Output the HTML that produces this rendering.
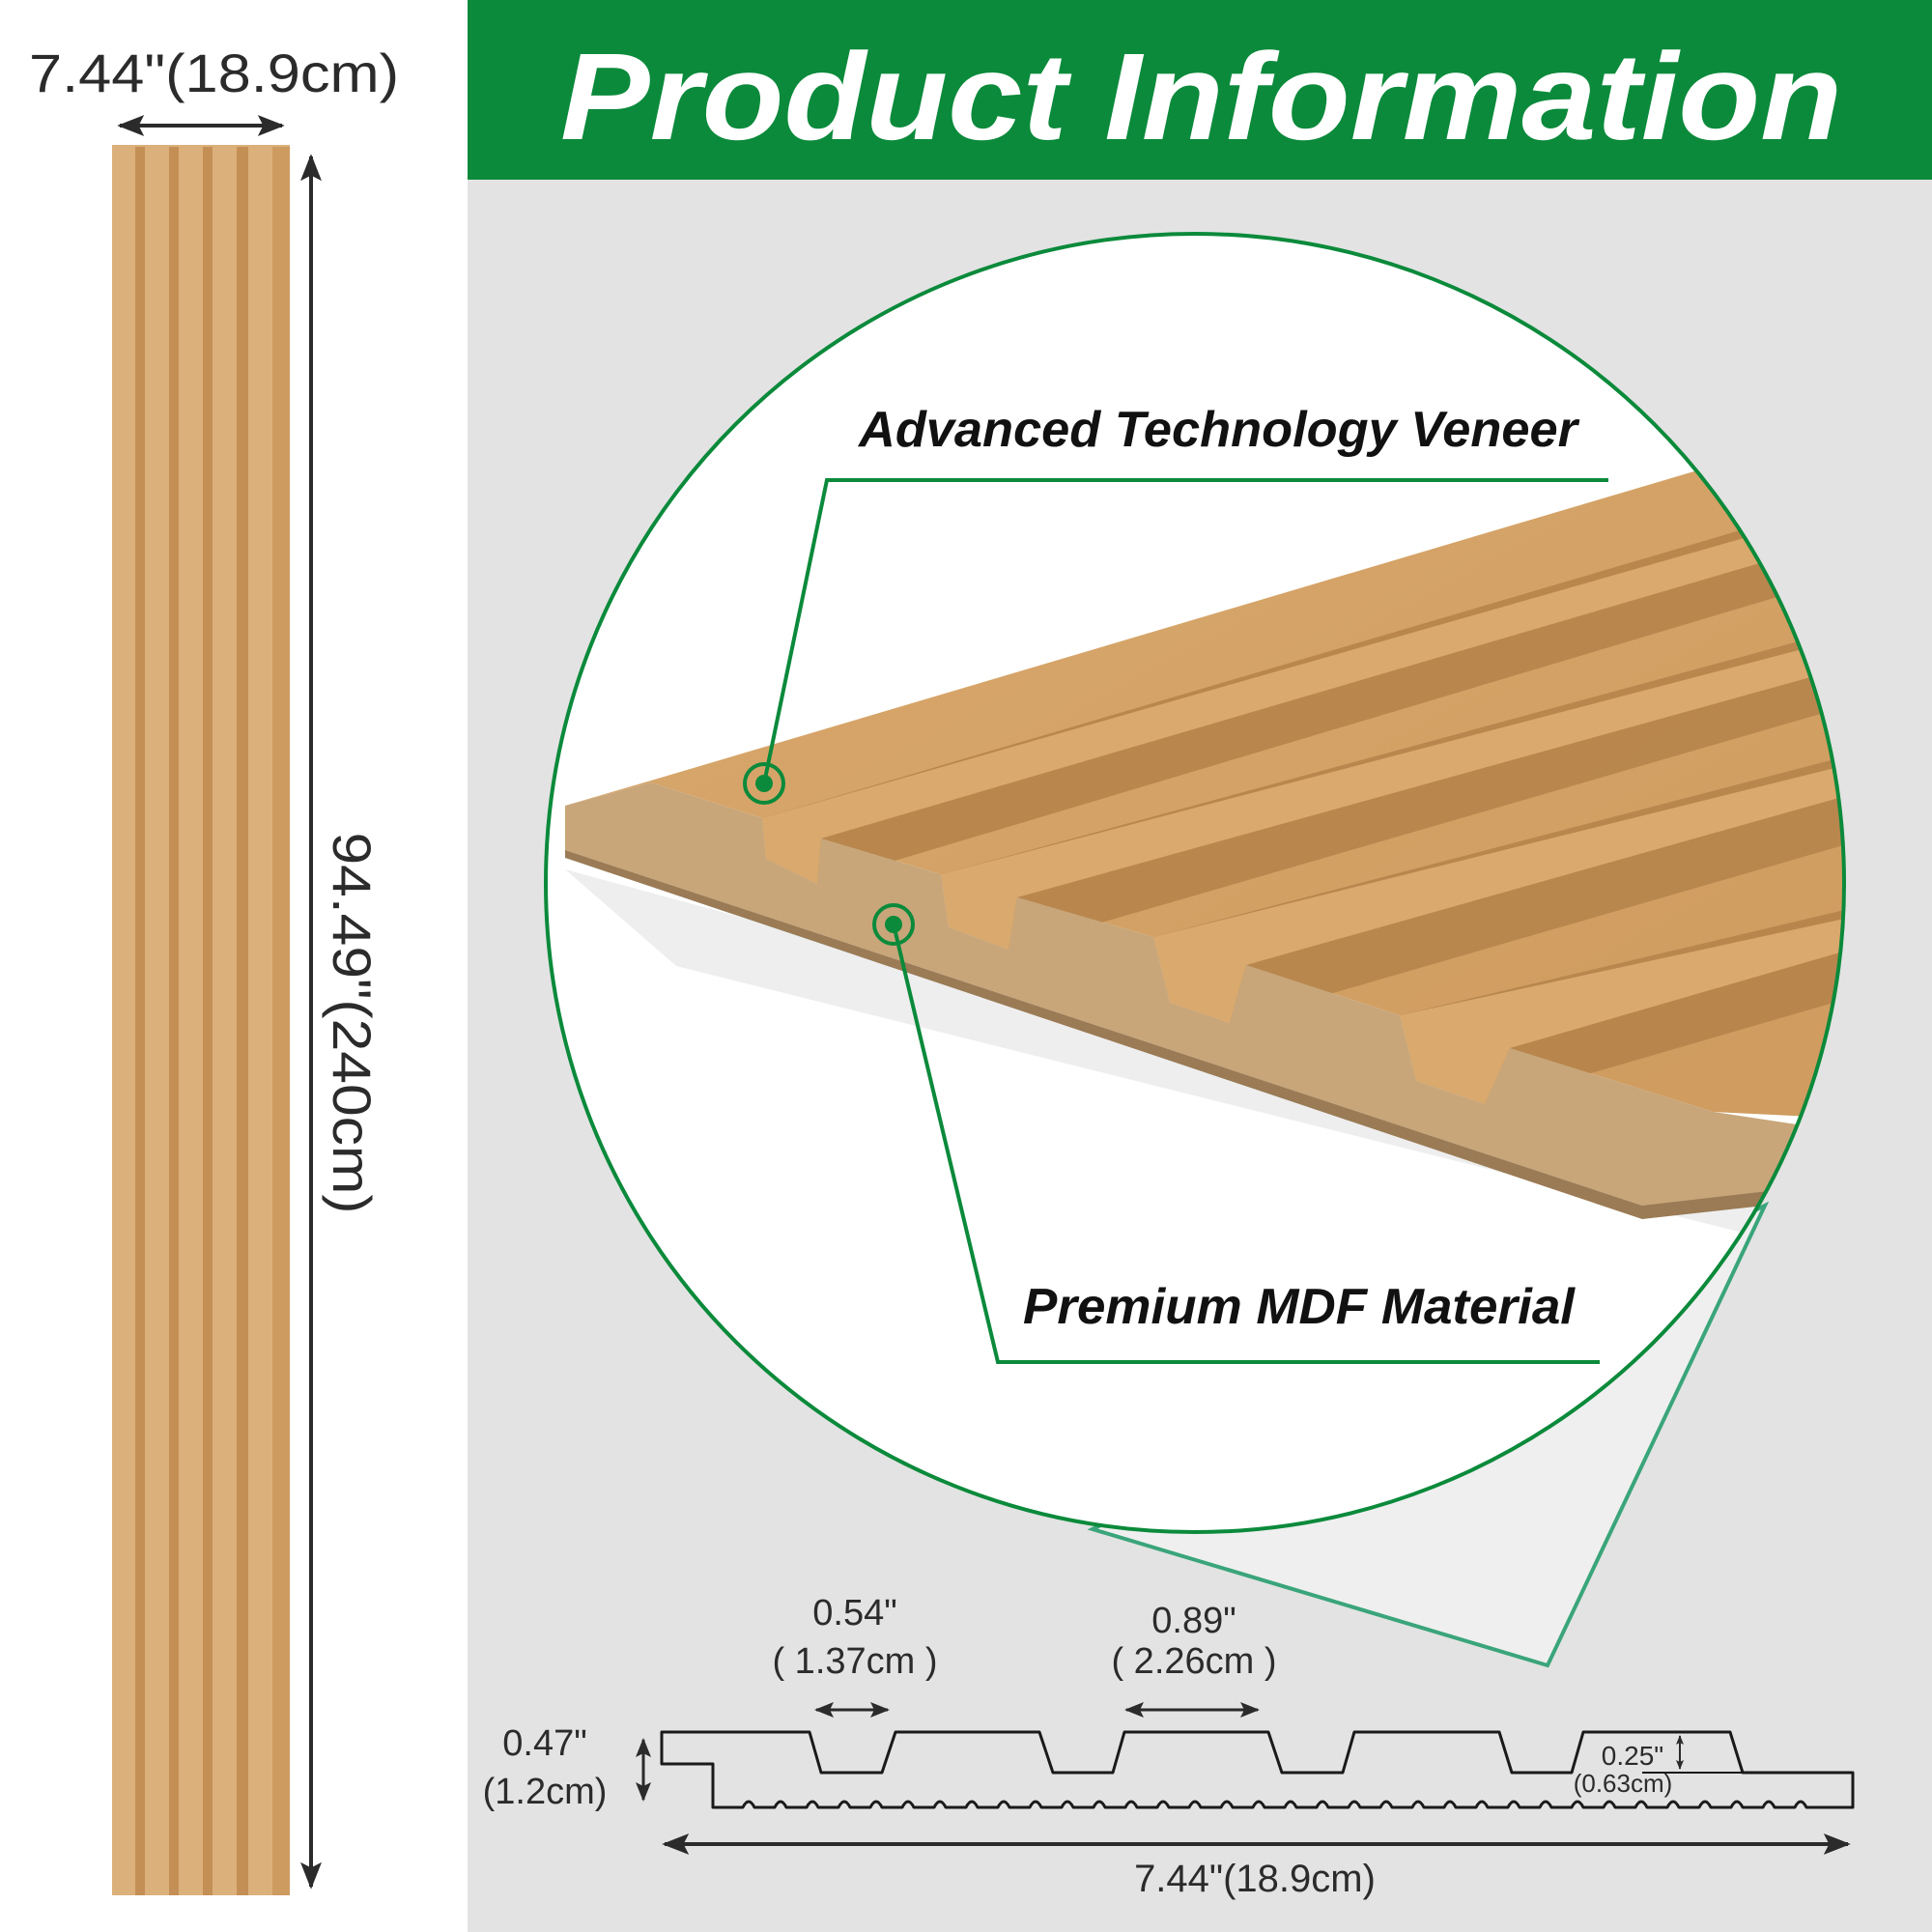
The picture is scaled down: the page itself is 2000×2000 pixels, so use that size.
<!DOCTYPE html>
<html><head><meta charset="utf-8"><style>
html,body{margin:0;padding:0;background:#fff}
svg{display:block}
text{font-family:"Liberation Sans",sans-serif}
</style></head><body>
<svg width="2000" height="2000" viewBox="0 0 2000 2000" xmlns="http://www.w3.org/2000/svg">
<defs>
<clipPath id="cc"><circle cx="1237" cy="914" r="672"/></clipPath>
<marker id="ah" markerWidth="28" markerHeight="22" refX="9" refY="5" orient="auto-start-reverse" markerUnits="userSpaceOnUse" viewBox="0 0 10 10" preserveAspectRatio="none"><path d="M0,0 L10,5 L0,10 L2,5 Z" fill="#2b2b2b"/></marker>
<marker id="ahm" markerWidth="20" markerHeight="16" refX="9" refY="5" orient="auto-start-reverse" markerUnits="userSpaceOnUse" viewBox="0 0 10 10" preserveAspectRatio="none"><path d="M0,0 L10,5 L0,10 L2,5 Z" fill="#2b2b2b"/></marker>
<marker id="ahs" markerWidth="10" markerHeight="8" refX="9" refY="5" orient="auto-start-reverse" markerUnits="userSpaceOnUse" viewBox="0 0 10 10" preserveAspectRatio="none"><path d="M0,0 L10,5 L0,10 L2,5 Z" fill="#2b2b2b"/></marker>
<linearGradient id="wood" x1="0" y1="0" x2="1" y2="1"><stop offset="0" stop-color="#d9a96e"/><stop offset="1" stop-color="#cf9b5e"/></linearGradient>
</defs>
<rect x="0" y="0" width="2000" height="2000" fill="#fff"/>
<rect x="484" y="0" width="1516" height="2000" fill="#e3e3e3"/>
<rect x="484" y="0" width="1516" height="186" fill="#0b8a3b"/>
<text x="580" y="144" font-size="128" font-weight="bold" font-style="italic" fill="#fff" textLength="1327" lengthAdjust="spacingAndGlyphs">Product Information</text>

<!-- left panel -->
<text x="30" y="95" font-size="56" fill="#2b2b2b" textLength="383" lengthAdjust="spacingAndGlyphs">7.44"(18.9cm)</text>
<line x1="124" y1="130" x2="292" y2="130" stroke="#2b2b2b" stroke-width="4" marker-start="url(#ah)" marker-end="url(#ah)"/>
<rect x="116" y="150" width="184" height="1812" fill="#dcb07a"/>
<rect x="140" y="152" width="10" height="1810" fill="#c48f55"/>
<rect x="175" y="152" width="10" height="1810" fill="#c48f55"/>
<rect x="210" y="152" width="10" height="1810" fill="#c48f55"/>
<rect x="245" y="152" width="12" height="1810" fill="#c48f55"/>
<rect x="282" y="152" width="18" height="1810" fill="#cd9a60"/>
<line x1="322" y1="162" x2="322" y2="1953" stroke="#2b2b2b" stroke-width="4" marker-start="url(#ah)" marker-end="url(#ah)"/>
<text transform="translate(345,1059) rotate(90)" x="0" y="0" text-anchor="middle" font-size="56" fill="#2b2b2b" textLength="395" lengthAdjust="spacingAndGlyphs">94.49"(240cm)</text>

<!-- callout triangle -->
<polygon points="1131,1583 1602,1724 1827,1248" fill="#efefef" stroke="#3aa57a" stroke-width="4"/>

<!-- circle -->
<circle cx="1237" cy="914" r="672" fill="#fff"/>
<g clip-path="url(#cc)">
<polygon points="585,900 1836,1240 1900,1300 700,1000" fill="#eeeeee"/>
<polygon points="585,834 674,808 1757,487 1960,420 1960,1160 1774,1151 1563,1085 1537,1143 1466,1119 1449,1051 1290,999 1273,1059 1211,1038 1194,970 1053,929 1044,983 982,960 974,905 850,868 846,915 793,889 789,847 674,810" fill="url(#wood)"/>
<polygon points="789,847 846,915 1900,600 1900,520" fill="#b4834a" opacity="0.85"/>
<polygon points="974,905 1044,983 1950,720 1950,640" fill="#b4834a" opacity="0.85"/>
<polygon points="1194,970 1273,1059 1960,860 1960,770" fill="#b4834a" opacity="0.85"/>
<polygon points="1449,1051 1537,1143 1960,1020 1960,930" fill="#b4834a" opacity="0.85"/>
<polygon points="789,847 793,889 846,915 850,868 1900,560 1900,530" fill="#d9a96e"/>
<polygon points="974,905 982,960 1044,983 1053,929 1950,680 1950,650" fill="#d9a96e"/>
<polygon points="1194,970 1211,1038 1273,1059 1290,999 1960,810 1960,780" fill="#d9a96e"/>
<polygon points="1449,1051 1466,1119 1537,1143 1563,1085 1960,970 1960,940" fill="#d9a96e"/>
<polygon points="585,834 674,810 789,847 793,889 846,915 850,868 974,905 982,960 1044,983 1053,929 1194,970 1211,1038 1273,1059 1290,999 1449,1051 1466,1119 1537,1143 1563,1085 1774,1151 1900,1170 1900,1240 1700,1248 585,880" fill="#c8a67a"/>
<polygon points="585,880 1700,1248 1900,1225 1900,1240 1700,1262 585,888" fill="#9a7b55"/>
</g>
<circle cx="1237" cy="914" r="672" fill="none" stroke="#0b8a3b" stroke-width="4"/>

<!-- labels -->
<text x="889" y="462" font-size="52" font-weight="bold" font-style="italic" fill="#111" textLength="744" lengthAdjust="spacingAndGlyphs">Advanced Technology Veneer</text>
<polyline points="1665,497 856,497 791,811" fill="none" stroke="#0b8a3b" stroke-width="4"/>
<circle cx="791" cy="811" r="20" fill="none" stroke="#0b8a3b" stroke-width="4"/>
<circle cx="791" cy="811" r="9" fill="#0b8a3b"/>
<text x="1059" y="1370" font-size="52" font-weight="bold" font-style="italic" fill="#111" textLength="571" lengthAdjust="spacingAndGlyphs">Premium MDF Material</text>
<polyline points="1656,1410 1033,1410 925,957" fill="none" stroke="#0b8a3b" stroke-width="4"/>
<circle cx="925" cy="957" r="20" fill="none" stroke="#0b8a3b" stroke-width="4"/>
<circle cx="925" cy="957" r="9" fill="#0b8a3b"/>

<!-- profile drawing -->
<g fill="#2b2b2b">
<text x="885" y="1682" font-size="38" text-anchor="middle">0.54"</text>
<text x="885" y="1732" font-size="38" text-anchor="middle">( 1.37cm )</text>
<text x="1236" y="1690" font-size="38" text-anchor="middle">0.89"</text>
<text x="1236" y="1732" font-size="38" text-anchor="middle">( 2.26cm )</text>
<text x="564" y="1817" font-size="38" text-anchor="middle">0.47"</text>
<text x="564" y="1867" font-size="38" text-anchor="middle">(1.2cm)</text>
<text x="1690" y="1827" font-size="28" text-anchor="middle">0.25"</text>
<text x="1680" y="1855" font-size="26" text-anchor="middle">(0.63cm)</text>
<text x="1299" y="1958" font-size="40" text-anchor="middle">7.44"(18.9cm)</text>
</g>
<line x1="845" y1="1770" x2="919" y2="1770" stroke="#2b2b2b" stroke-width="3" marker-start="url(#ahm)" marker-end="url(#ahm)"/>
<line x1="1166" y1="1770" x2="1302" y2="1770" stroke="#2b2b2b" stroke-width="3" marker-start="url(#ahm)" marker-end="url(#ahm)"/>
<line x1="666" y1="1801" x2="666" y2="1863" stroke="#2b2b2b" stroke-width="3" marker-start="url(#ahm)" marker-end="url(#ahm)"/>
<line x1="1739" y1="1797" x2="1739" y2="1831" stroke="#2b2b2b" stroke-width="2" marker-start="url(#ahs)" marker-end="url(#ahs)"/>
<line x1="688" y1="1909" x2="1913" y2="1909" stroke="#2b2b2b" stroke-width="4" marker-start="url(#ah)" marker-end="url(#ah)"/>
<path d="M685,1793 L838,1793 L850,1835 L913,1835 L927,1793 L1076,1793 L1090,1835 L1152,1835 L1164,1793 L1313,1793 L1327,1835 L1390,1835 L1402,1793 L1552,1793 L1565,1835 L1627,1835 L1639,1793 L1791,1793 L1804,1835 L1918,1835 L1918,1871 L1870,1871 Q1864,1859 1858,1871 L1837,1871 Q1831,1859 1825,1871 L1804,1871 Q1798,1859 1792,1871 L1771,1871 Q1765,1859 1759,1871 L1738,1871 Q1732,1859 1726,1871 L1705,1871 Q1699,1859 1693,1871 L1672,1871 Q1666,1859 1660,1871 L1639,1871 Q1633,1859 1627,1871 L1606,1871 Q1600,1859 1594,1871 L1573,1871 Q1567,1859 1561,1871 L1540,1871 Q1534,1859 1528,1871 L1507,1871 Q1501,1859 1495,1871 L1474,1871 Q1468,1859 1462,1871 L1441,1871 Q1435,1859 1429,1871 L1408,1871 Q1402,1859 1396,1871 L1375,1871 Q1369,1859 1363,1871 L1342,1871 Q1336,1859 1330,1871 L1309,1871 Q1303,1859 1297,1871 L1276,1871 Q1270,1859 1264,1871 L1243,1871 Q1237,1859 1231,1871 L1210,1871 Q1204,1859 1198,1871 L1177,1871 Q1171,1859 1165,1871 L1144,1871 Q1138,1859 1132,1871 L1111,1871 Q1105,1859 1099,1871 L1078,1871 Q1072,1859 1066,1871 L1045,1871 Q1039,1859 1033,1871 L1012,1871 Q1006,1859 1000,1871 L979,1871 Q973,1859 967,1871 L946,1871 Q940,1859 934,1871 L913,1871 Q907,1859 901,1871 L880,1871 Q874,1859 868,1871 L847,1871 Q841,1859 835,1871 L814,1871 Q808,1859 802,1871 L781,1871 Q775,1859 769,1871 L738,1871 L738,1826 L685,1826 Z" fill="none" stroke="#1a1a1a" stroke-width="3" stroke-linejoin="round"/>
<line x1="1700" y1="1835" x2="1804" y2="1835" stroke="#1a1a1a" stroke-width="2"/>
</svg>
</body></html>
